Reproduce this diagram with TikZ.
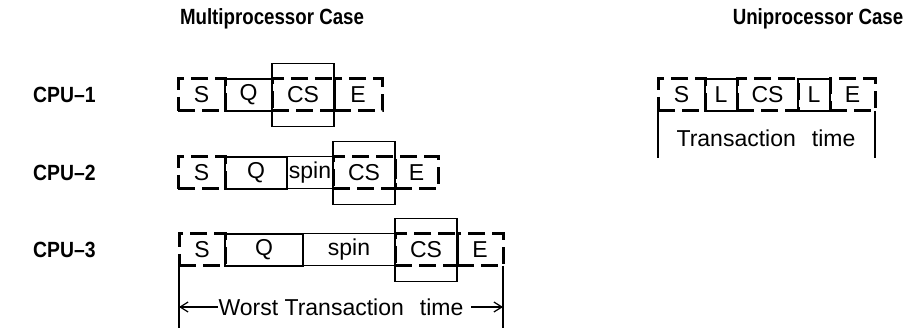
\documentclass[tikz,border=0pt]{standalone}
\usepackage{fontspec}
\setmainfont{Liberation Sans}
\setsansfont{Liberation Sans}
\usetikzlibrary{arrows.meta,positioning}

\begin{document}
\begin{tikzpicture}[
  x=1pt, y=-1pt,
  seg/.style={rectangle, inner sep=0pt, outer sep=0pt, minimum height=32pt,
              font=\fontsize{23}{26}\selectfont},
  dseg/.style={seg, draw, line width=3pt, dash pattern=on 17pt off 7pt},
  qseg/.style={seg, draw, line width=1.6pt},
  spinseg/.style={seg, draw, line width=1pt},
  csbig/.style={rectangle, draw, line width=1.6pt, inner sep=0pt,
                outer sep=0pt, minimum width=62pt, minimum height=63pt},
  cpu/.style={font=\fontsize{22}{26}\selectfont\bfseries, anchor=west,
              inner sep=0pt},
  title/.style={font=\fontsize{22}{26}\selectfont\bfseries, inner sep=0pt},
  dim/.style={line width=1.2pt},
  arr/.style={dim, -{Straight Barb[length=8pt,width=10pt]}}
]
\useasboundingbox (0,0) rectangle (907,328);

\node[title] (tmulti) at (272,19) {\scalebox{0.85}[1]{Multiprocessor Case}};
\node[title] (tuni) at (818,19) {\scalebox{0.85}[1]{Uniprocessor Case}};

\node[cpu] (cpu1) at (33,95) {\scalebox{0.88}[1]{CPU--1}};
\node[cpu] (cpu2) at (33,173) {\scalebox{0.88}[1]{CPU--2}};
\node[cpu] (cpu3) at (33,250) {\scalebox{0.88}[1]{CPU--3}};

% CPU-1
\node[dseg, minimum width=47pt, anchor=west] (s1) at (178,95) {S};
\node[qseg, minimum width=47pt, right=0pt of s1] (q1) {Q};
\node[dseg, minimum width=62pt, right=0pt of q1] (cs1) {CS};
\node[dseg, minimum width=48pt, right=0pt of cs1] (e1) {E};
\node[csbig] (cs1big) at (cs1) {};

% CPU-2
\node[dseg, minimum width=47pt, anchor=west] (s2) at (178,173) {S};
\node[qseg, minimum width=62pt, right=0pt of s2] (q2) {Q};
\node[spinseg, minimum width=46pt, right=0pt of q2] (sp2) {spin};
\node[dseg, minimum width=62pt, right=0pt of sp2] (cs2) {CS};
\node[dseg, minimum width=43pt, right=0pt of cs2] (e2) {E};
\node[csbig] (cs2big) at (cs2) {};

% CPU-3
\node[dseg, minimum width=46pt, anchor=west] (s3) at (179,250) {S};
\node[qseg, minimum width=78pt, right=0pt of s3] (q3) {Q};
\node[spinseg, minimum width=92pt, right=0pt of q3] (sp3) {spin};
\node[dseg, minimum width=62pt, right=0pt of sp3] (cs3) {CS};
\node[dseg, minimum width=46pt, right=0pt of cs3] (e3) {E};
\node[csbig] (cs3big) at (cs3) {};

% worst case span
\coordinate (wbase) at (0,328);
\draw[dim] (s3.south west) -- (s3.south west |- wbase);
\draw[dim] (e3.south east) -- (e3.south east |- wbase);
\node[seg, minimum height=0pt, inner xsep=1pt] (worst) at (341,307)
  {Worst Transaction\hspace{0.7em}time};
\draw[arr] (worst.west) -- (s3.south west |- worst.west);
\draw[arr] ([xshift=7pt]worst.east) -- (e3.south east |- worst.east);

% uniprocessor
\node[dseg, minimum width=47pt, anchor=west] (us) at (658,95) {S};
\node[qseg, minimum width=32pt, right=0pt of us] (ul1) {L};
\node[dseg, minimum width=61pt, right=0pt of ul1] (ucs) {CS};
\node[qseg, minimum width=32pt, right=0pt of ucs] (ul2) {L};
\node[dseg, minimum width=45pt, right=0pt of ul2] (ue) {E};

\coordinate (ubase) at (0,158);
\draw[dim] (us.south west) -- (us.south west |- ubase);
\draw[dim] (ue.south east) -- (ue.south east |- ubase);
\node[seg, minimum height=0pt] (ttime) at (766,138)
  {Transaction\hspace{0.7em}time};
\end{tikzpicture}
\end{document}
